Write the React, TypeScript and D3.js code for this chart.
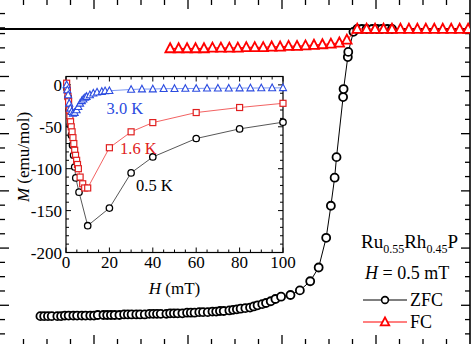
import React from "react";
import * as d3 from "d3";

// ---------- main plot data (T in K, M in arb. emu/mol units) ----------
const zfcT = [0.43,0.47,0.51,0.55,0.61,0.65,0.69,0.73,0.78,0.82,0.87,0.91,0.96,1.00,1.04,1.10,1.14,1.18,1.22,1.27,1.32,1.36,1.40,1.45,1.49,1.54,1.59,1.63,1.67,1.71,1.77,1.81,1.85,1.89,1.94,1.99,2.03,2.07,2.12,2.16,2.21,2.26,2.30,2.34,2.38,2.44,2.48,2.52,2.56,2.61,2.66,2.70,2.74,2.79,2.83,2.88,2.93,2.99,3.09,3.19,3.30,3.39,3.47,3.52,3.56,3.58,3.65,3.655,3.70,3.705,3.76,3.80,3.85,3.90,3.96,4.01,4.06,4.12,4.17];
const zfcM = [-5.02,-5.02,-5.02,-5.02,-5.02,-5.02,-5.01,-5.01,-5.01,-5.01,-5.01,-5.01,-5.01,-5.01,-5.0,-5.0,-5.0,-5.0,-5.0,-5.0,-4.99,-4.99,-4.99,-4.99,-4.99,-4.99,-4.98,-4.98,-4.98,-4.98,-4.98,-4.97,-4.97,-4.97,-4.97,-4.96,-4.96,-4.96,-4.95,-4.95,-4.95,-4.94,-4.94,-4.93,-4.93,-4.92,-4.91,-4.90,-4.89,-4.88,-4.87,-4.85,-4.83,-4.81,-4.79,-4.76,-4.72,-4.68,-4.65,-4.57,-4.41,-4.17,-3.65,-3.09,-2.60,-2.24,-1.19,-1.05,-0.49,-0.40,-0.05,0.0,0.0,0.0,0.0,0.0,0.0,0.0,0.0];

const fcT = [1.81,1.90,1.99,2.08,2.17,2.26,2.35,2.44,2.53,2.62,2.71,2.80,2.89,2.98,3.07,3.16,3.25,3.34,3.43,3.52,3.61,3.69,3.80,3.90,3.99,4.08,4.17,4.26,4.35,4.44,4.53,4.62,4.71,4.80,4.89,4.98];
const fcM = [-0.34,-0.34,-0.34,-0.34,-0.34,-0.33,-0.33,-0.33,-0.33,-0.32,-0.32,-0.32,-0.31,-0.31,-0.30,-0.30,-0.29,-0.28,-0.27,-0.26,-0.24,-0.19,0.0,0.0,0.0,0.0,0.0,0.0,0.0,0.0,0.0,0.0,0.0,0.0,0.0,0.0];

const outerMajorY = [-0.83,-1.83,-2.83,-3.83,-4.83];
const outerMinorY = [0.27,0.02,-0.08,-0.33,-0.58,-1.08,-1.33,-1.58,-2.08,-2.33,-2.58,-3.08,-3.33,-3.58,-4.08,-4.33,-4.58,-5.08,-5.33];
const outerMajorX = [1,2,3,4];
const outerMinorX = [0.25,0.5,0.75,1.25,1.5,1.75,2.25,2.5,2.75,3.25,3.5,3.75,4.25,4.5,4.75];

// ---------- inset data: M (emu/mol) vs H (mT) ----------
const h30 = [0.3,0.6,1.0,1.5,2.0,2.6,3.2,4.0,4.9,5.7,6.5,7.3,8.0,8.8,9.5,11,12.6,14.3,16.5,18,20,30,35,40,45,50,55,60,65,70,75,80,85,90,95,100];
const m30 = [0,-6,-12,-22,-28,-32,-34,-33,-30,-26,-22,-19,-17,-15,-14,-12,-10,-8.7,-8,-7.2,-7,-5.5,-5,-5,-4.5,-4.5,-4.3,-4.3,-4,-4,-4,-3.8,-3.8,-3.7,-3.6,-3.5];
const h16 = [0.3,0.6,0.9,1.2,1.5,1.8,2.1,2.4,2.8,3.2,3.6,4.0,4.4,4.9,5.3,5.7,6.5,7.7,8.6,10,20,30,40,60,80,100];
const m16 = [2,-6,-14,-20,-30,-38,-44,-50,-56,-63,-70,-78,-84,-90,-95,-100,-110,-118,-123,-123,-75,-56,-45,-33,-27,-22];
const h05 = [0.5,1,1.5,2,2.5,3,3.5,4,4.5,6,10,20,30,40,60,80,100];
const m05 = [-5,-15,-30,-48,-60,-72,-84,-98,-111,-128,-168,-147,-105,-86,-64,-52.5,-44.5];
const insetXTicks = [0,20,40,60,80,100];
const insetYTicks = [0,-50,-100,-150,-200];

const SERIF = "'Liberation Serif', 'DejaVu Serif', serif";

export default function App() {
  const W = 474, H = 344;
  const x = d3.scaleLinear().domain([0, 5]).range([0, 470]);
  const y = d3.scaleLinear().domain([0, -1]).range([29, 86.2]);

  const hx = d3.scaleLinear().domain([0, 100]).range([66, 283]);
  const hy = d3.scaleLinear().domain([-200, 10]).range([252.5, 76.5]);

  const zfc = zfcT.map((t, i) => [t, zfcM[i]] as [number, number]);
  const fc = fcT.map((t, i) => [t, fcM[i]] as [number, number]);
  const mainLine = d3.line<[number, number]>().x(d => x(d[0])).y(d => y(d[1]));

  const mk = (hs: number[], ms: number[]) => hs.map((h, i) => [h, ms[i]] as [number, number]);
  const s30 = mk(h30, m30), s16 = mk(h16, m16), s05 = mk(h05, m05);
  const insetLine = d3.line<[number, number]>().x(d => hx(d[0])).y(d => hy(d[1]));

  const tri = (cx: number, cy: number, s: number) =>
    `M${cx},${cy - s * 0.55}L${cx + s / 2},${cy + s * 0.4}L${cx - s / 2},${cy + s * 0.4}Z`;

  const insetMinorX = d3.range(0, 101, 5);
  const insetMinorY = d3.range(-200, 11, 10);

  return (
    <svg width={W} height={H} style={{ position: "fixed", left: 0, top: 0, background: "#fff" }}
      fontFamily={SERIF}>
      <defs>
        <clipPath id="mainclip"><rect x={0} y={0} width={470} height={H} /></clipPath>
      </defs>
      {/* outer frame right */}
      <line x1={470} x2={470} y1={0} y2={H} stroke="#000" strokeWidth={1.6} />
      {/* outer ticks top/bottom */}
      {outerMinorX.map(t => (
        <g key={"mx" + t}>
          <line x1={x(t)} x2={x(t)} y1={0} y2={5} stroke="#000" strokeWidth={1.3} />
          <line x1={x(t)} x2={x(t)} y1={H} y2={H - 5} stroke="#000" strokeWidth={1.3} />
        </g>
      ))}
      {outerMajorX.map(t => (
        <g key={"Mx" + t}>
          <line x1={x(t)} x2={x(t)} y1={0} y2={9} stroke="#000" strokeWidth={1.3} />
          <line x1={x(t)} x2={x(t)} y1={H} y2={H - 9} stroke="#000" strokeWidth={1.3} />
        </g>
      ))}
      {outerMinorY.map(m => (
        <g key={"my" + m}>
          <line x1={0} x2={5} y1={y(m)} y2={y(m)} stroke="#000" strokeWidth={1.3} />
          <line x1={470} x2={465} y1={y(m)} y2={y(m)} stroke="#000" strokeWidth={1.3} />
        </g>
      ))}
      {outerMajorY.map(m => (
        <g key={"My" + m}>
          <line x1={0} x2={9} y1={y(m)} y2={y(m)} stroke="#000" strokeWidth={1.3} />
          <line x1={470} x2={461} y1={y(m)} y2={y(m)} stroke="#000" strokeWidth={1.3} />
        </g>
      ))}
      {/* zero line */}
      <line x1={0} x2={470} y1={y(0)} y2={y(0)} stroke="#000" strokeWidth={2} />

      <g clipPath="url(#mainclip)">
        <path d={mainLine(zfc) || ""} fill="none" stroke="#000" strokeWidth={1} />
        {zfc.map((d, i) => (
          <circle key={"z" + i} cx={x(d[0])} cy={y(d[1])} r={4} fill="#fff" stroke="#000" strokeWidth={1.8} />
        ))}
        <path d={mainLine(fc) || ""} fill="none" stroke="#f00" strokeWidth={1} />
        {fc.map((d, i) => (
          <path key={"f" + i} d={tri(x(d[0]), y(d[1]), 9.5)} fill="#fff" stroke="#f00" strokeWidth={1.8} />
        ))}
      </g>

      {/* inset */}
      <rect x={hx(0)} y={hy(10)} width={hx(100) - hx(0)} height={hy(-200) - hy(10)} fill="#fff" stroke="#000" strokeWidth={1.2} />
      {insetMinorX.map(h => {
        const len = h % 20 === 0 ? 5 : 3;
        return (
          <g key={"ix" + h}>
            <line x1={hx(h)} x2={hx(h)} y1={hy(-200)} y2={hy(-200) - len} stroke="#000" strokeWidth={1} />
            <line x1={hx(h)} x2={hx(h)} y1={hy(10)} y2={hy(10) + len} stroke="#000" strokeWidth={1} />
          </g>
        );
      })}
      {insetMinorY.map(m => {
        const len = m % 50 === 0 ? 5 : 3;
        return (
          <g key={"iy" + m}>
            <line x1={hx(0)} x2={hx(0) + len} y1={hy(m)} y2={hy(m)} stroke="#000" strokeWidth={1} />
            <line x1={hx(100)} x2={hx(100) - len} y1={hy(m)} y2={hy(m)} stroke="#000" strokeWidth={1} />
          </g>
        );
      })}
      {insetXTicks.map(h => (
        <text key={"lx" + h} x={hx(h)} y={268} textAnchor="middle" fontSize={17}>{h}</text>
      ))}
      {insetYTicks.map(m => (
        <text key={"ly" + m} x={62} y={hy(m) + 6} textAnchor="end" fontSize={17}>{m}</text>
      ))}
      <text x={174.5} y={294} textAnchor="middle" fontSize={17}>
        <tspan fontStyle="italic">H</tspan> (mT)
      </text>
      <text transform={`translate(29,${hy(-86)}) rotate(-90)`} textAnchor="middle" fontSize={17}>
        <tspan fontStyle="italic">M</tspan> (emu/mol)
      </text>

      <path d={insetLine(s05) || ""} fill="none" stroke="#444" strokeWidth={0.9} />
      {s05.map((d, i) => (
        <circle key={"a" + i} cx={hx(d[0])} cy={hy(d[1])} r={3.2} fill="#fff" stroke="#000" strokeWidth={1.3} />
      ))}
      <path d={insetLine(s16) || ""} fill="none" stroke="#f05050" strokeWidth={0.9} />
      {s16.map((d, i) => (
        <rect key={"b" + i} x={hx(d[0]) - 3} y={hy(d[1]) - 3} width={6} height={6} fill="#fff" stroke="#e02020" strokeWidth={1.2} />
      ))}
      <path d={insetLine(s30) || ""} fill="none" stroke="#6d8cf0" strokeWidth={0.9} />
      {s30.map((d, i) => (
        <path key={"c" + i} d={tri(hx(d[0]), hy(d[1]), 7)} fill="#fff" stroke="#2b4be0" strokeWidth={1.1} />
      ))}
      <text x={106.5} y={114} fontSize={16.5} fill="#2b4be0">3.0 K</text>
      <text x={120} y={154} fontSize={16.5} fill="#e02020">1.6 K</text>
      <text x={136} y={191} fontSize={16.5} fill="#000">0.5 K</text>

      {/* legend / annotations */}
      <text x={361} y={248} fontSize={19}>
        Ru<tspan fontSize={12} dy={5}>0.55</tspan><tspan dy={-5}>Rh</tspan><tspan fontSize={12} dy={5}>0.45</tspan><tspan dy={-5}>P</tspan>
      </text>
      <text x={365} y={279} fontSize={18}>
        <tspan fontStyle="italic">H</tspan> = 0.5 mT
      </text>
      <line x1={363} x2={407} y1={300} y2={300} stroke="#000" strokeWidth={1} />
      <circle cx={385} cy={300} r={3.4} fill="#fff" stroke="#000" strokeWidth={1.6} />
      <text x={410} y={306} fontSize={18}>ZFC</text>
      <line x1={363} x2={407} y1={322} y2={322} stroke="#f00" strokeWidth={1} />
      <path d={tri(385, 322, 8.5)} fill="#fff" stroke="#f00" strokeWidth={1.8} />
      <text x={410} y={328} fontSize={18}>FC</text>
    </svg>
  );
}
